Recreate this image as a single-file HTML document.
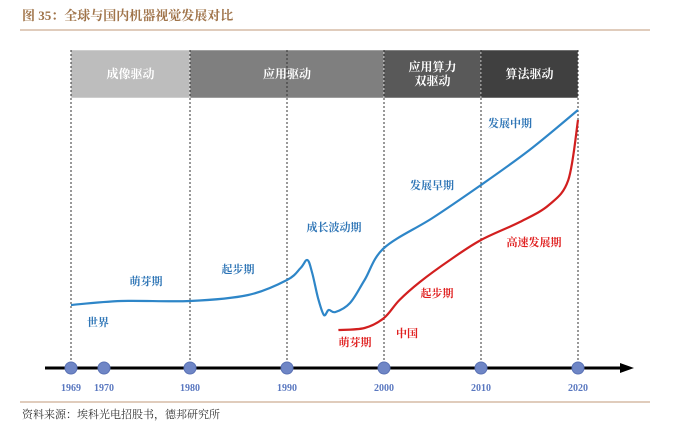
<!DOCTYPE html>
<html><head><meta charset="utf-8"><style>
body{margin:0;background:#fff;width:676px;height:424px;overflow:hidden;font-family:"Liberation Serif","Noto Serif CJK SC",serif}
</style></head><body>
<svg width="676" height="424" style="position:absolute;left:0;top:0">
<text x="22" y="20" font-size="13" fill="#a0744a" font-family="'Liberation Serif','Noto Serif CJK SC',serif" font-weight="bold">图 35：全球与国内机器视觉发展对比</text>
<line x1="20" y1="30" x2="650" y2="30" stroke="#c09a78" stroke-width="1"/>
<g id="bands"></g>
<g id="grid"></g>
<g id="lines"></g>
<line x1="45" y1="368" x2="622" y2="368" stroke="#000" stroke-width="3"/>
<polygon points="620,363 634,368 620,373" fill="#000"/>
<g id="axis"></g>
<g id="labels" font-size="11" font-weight="bold"></g>
<line x1="20" y1="402" x2="650" y2="402" stroke="#c09a78" stroke-width="1"/>
<text x="22" y="418" font-size="11" fill="#333" font-family="'Liberation Serif','Noto Serif CJK SC',serif">资料来源：埃科光电招股书，德邦研究所</text>
</svg>
<script>
const years=[1969,1970,1980,1990,2000,2010,2020];
const bandNames=["成像驱动","应用驱动","应用算力|双驱动","算法驱动"];
const bandStart=[1969,1980,2000,2010];
const bandEnd=[1980,2000,2010,2020];
const bandColors=["#bdbdbd","#7f7f7f","#595959","#404040"];
const globalYears=[1969,1972,1980,1986,1990,1991.4,1992.1,1992.6,1993.2,1993.8,1994.3,1995,1996.5,1998,2000,2005,2010,2015,2020];
const globalVals=[63,67,67,73,88,100,108,95,70,53,58,56,65,88,120,150,183,218,258];
const chinaYears=[1995.3,1998,2000,2001.6,2003.7,2006.8,2010,2014,2017,2019,2020];
const chinaVals=[38,40,50,68,86,108,128,146,163,188,248];
const ns="http://www.w3.org/2000/svg";
function xs(y){return y<1980?(y<=1970?71+(y-1969)*33:104+(y-1970)*8.6):190+(y-1980)*9.7;}
function ys(v){return 368-v;}
function mk(t,a,p){const e=document.createElementNS(ns,t);for(const k in a)e.setAttribute(k,a[k]);p.appendChild(e);return e;}
const B=document.getElementById('bands');
bandNames.forEach((n,i)=>{const x0=xs(bandStart[i]),x1=xs(bandEnd[i]);
 const r=mk('rect',{x:x0,y:50,width:x1-x0,height:48,fill:bandColors[i],stroke:'#fff','stroke-width':0.5},B);
 
 
 const parts=n.split('|');
 parts.forEach((p,j)=>{const t=mk('text',{x:(x0+x1)/2,y:78+(j-(parts.length-1)/2)*14,'text-anchor':'middle',fill:'#fff','font-size':12,'font-weight':'bold'},B);t.textContent=p;
 
 });
});
const G=document.getElementById('grid');
[1969,1980,1990,2000,2010,2020].forEach(y=>{const l=mk('line',{x1:xs(y),y1:50,x2:xs(y),y2:366,stroke:'#333','stroke-dasharray':'2,2','stroke-width':1},G);
 
 });
const L=document.getElementById('lines');
function path(xa,va,c,name){const P=xa.map((x,i)=>[xs(x),ys(va[i])]);
 let d='M'+P[0][0].toFixed(1)+','+P[0][1].toFixed(1);
 for(let i=0;i<P.length-1;i++){const p0=P[Math.max(0,i-1)],p1=P[i],p2=P[i+1],p3=P[Math.min(P.length-1,i+2)];
  const c1=[p1[0]+(p2[0]-p0[0])/6,p1[1]+(p2[1]-p0[1])/6],c2=[p2[0]-(p3[0]-p1[0])/6,p2[1]-(p3[1]-p1[1])/6];
  d+='C'+c1.map(v=>v.toFixed(1)).join(',')+' '+c2.map(v=>v.toFixed(1)).join(',')+' '+p2.map(v=>v.toFixed(1)).join(',');}
 const p=mk('path',{d:d,fill:'none',stroke:c,'stroke-width':2.2,'stroke-linejoin':'round'},L);
 
 }
path(globalYears,globalVals,'#2e86c8','global-line');
path(chinaYears,chinaVals,'#d21f1f','china-line');
const A=document.getElementById('axis');
years.forEach(y=>{const c=mk('circle',{cx:xs(y),cy:368,r:6,fill:'#6f86c6',stroke:'#5a72b5'},A);
 
 
 const t=mk('text',{x:xs(y),y:391,'text-anchor':'middle','font-size':10,'font-weight':'bold',fill:'#5a78c0'},A);t.textContent=y;
 
 });
const TL=document.getElementById('labels');
const lbl=[["世界",98,326,"#2e75b6"],["萌芽期",146,285,"#2e75b6"],["起步期",238,273,"#2e75b6"],["成长波动期",334,231,"#2e75b6"],["发展早期",432,189,"#2e75b6"],["发展中期",510,127,"#2e75b6"],["中国",407,337,"#e02020"],["萌芽期",355,346,"#e02020"],["起步期",437,297,"#e02020"],["高速发展期",534,246,"#e02020"]];
lbl.forEach(a=>{const t=mk('text',{x:a[1],y:a[2],'text-anchor':'middle',fill:a[3]},TL);t.textContent=a[0];
 
 });
</script>
</body></html>
